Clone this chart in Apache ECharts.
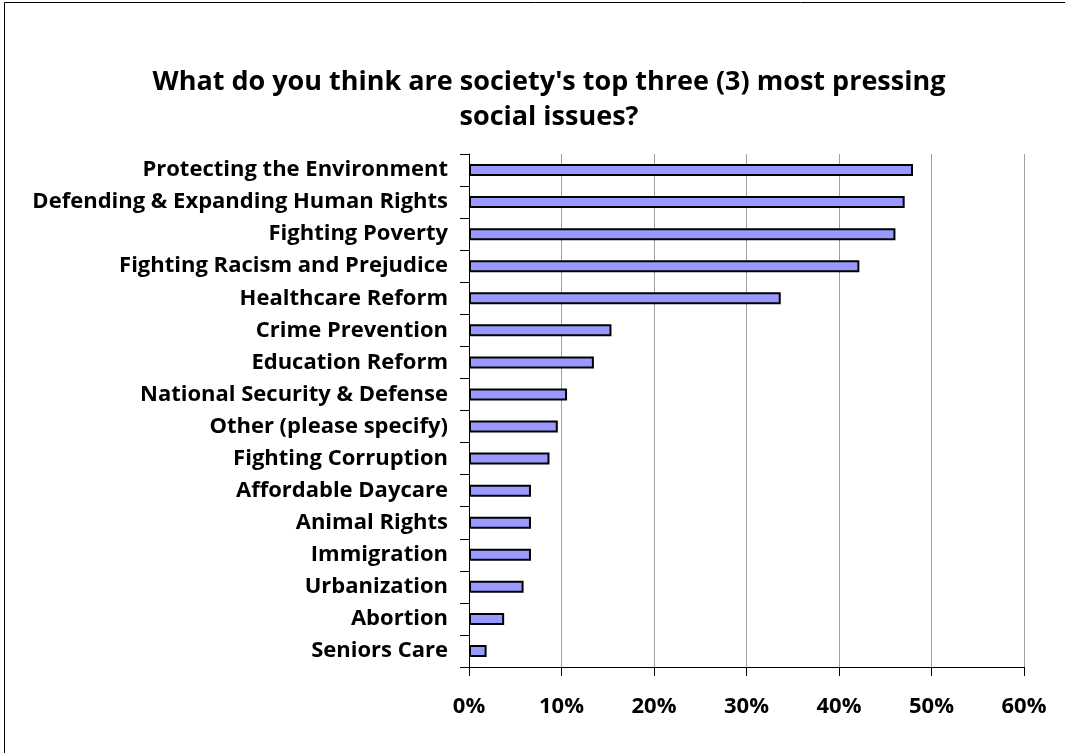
<!DOCTYPE html>
<html>
<head>
<meta charset="utf-8">
<script src="https://cdn.jsdelivr.net/npm/echarts@6/dist/echarts.min.js"></script>
<style>
html,body{margin:0;padding:0;background:#fff;}
#chart{width:1065px;height:753px;}
</style>
</head>
<body>
<div id="chart"></div>
<script>
const titleText = "What do you think are society's top three (3) most pressing\nsocial issues?";
const categories = [
  "Protecting the Environment",
  "Defending & Expanding Human Rights",
  "Fighting Poverty",
  "Fighting Racism and Prejudice",
  "Healthcare Reform",
  "Crime Prevention",
  "Education Reform",
  "National Security & Defense",
  "Other (please specify)",
  "Fighting Corruption",
  "Affordable Daycare",
  "Animal Rights",
  "Immigration",
  "Urbanization",
  "Abortion",
  "Seniors Care"
];
const values = [48.0, 47.1, 46.1, 42.2, 33.7, 15.4, 13.5, 10.6, 9.6, 8.7, 6.7, 6.7, 6.7, 5.9, 3.8, 1.9];
const xTicks = [0, 10, 20, 30, 40, 50, 60];

const FONT = "Open Sans";
const chart = echarts.init(document.getElementById('chart'), null, {renderer: 'canvas'});
chart.setOption({
  backgroundColor: '#ffffff',
  animation: false,
  title: {
    text: titleText,
    left: 544,
    top: 60,
    textAlign: 'center',
    textStyle: {fontFamily: FONT, fontWeight: 'bold', fontSize: 27, lineHeight: 35, color: '#000'}
  },
  graphic: [{
    type: 'rect',
    shape: {x: 4.5, y: 2.5, width: 1100, height: 800},
    style: {fill: 'none', stroke: '#000', lineWidth: 1}
  }],
  grid: {left: 469, right: 41, top: 154, bottom: 86, containLabel: false},
  xAxis: {
    type: 'value',
    min: xTicks[0],
    max: xTicks[xTicks.length - 1],
    interval: 10,
    axisLine: {show: true, lineStyle: {color: '#000', width: 1}},
    axisTick: {show: true, length: 9, lineStyle: {color: '#000'}},
    splitLine: {show: true, lineStyle: {color: '#a0a0a0', width: 1}},
    axisLabel: {
      formatter: v => v + '%',
      margin: 29,
      fontFamily: FONT, fontWeight: 'bold', fontSize: 22, color: '#000'
    }
  },
  yAxis: {
    type: 'category',
    data: categories,
    inverse: true,
    axisLine: {show: true, lineStyle: {color: '#000', width: 1}},
    axisTick: {show: true, length: 9, lineStyle: {color: '#000'}},
    axisLabel: {
      margin: 21,
      fontFamily: FONT, fontWeight: 'bold', fontSize: 22, color: '#000'
    }
  },
  series: [{
    type: 'bar',
    data: values,
    barWidth: 12,
    itemStyle: {color: '#9999ff', borderColor: '#000', borderWidth: 2}
  }]
});
</script>
</body>
</html>
